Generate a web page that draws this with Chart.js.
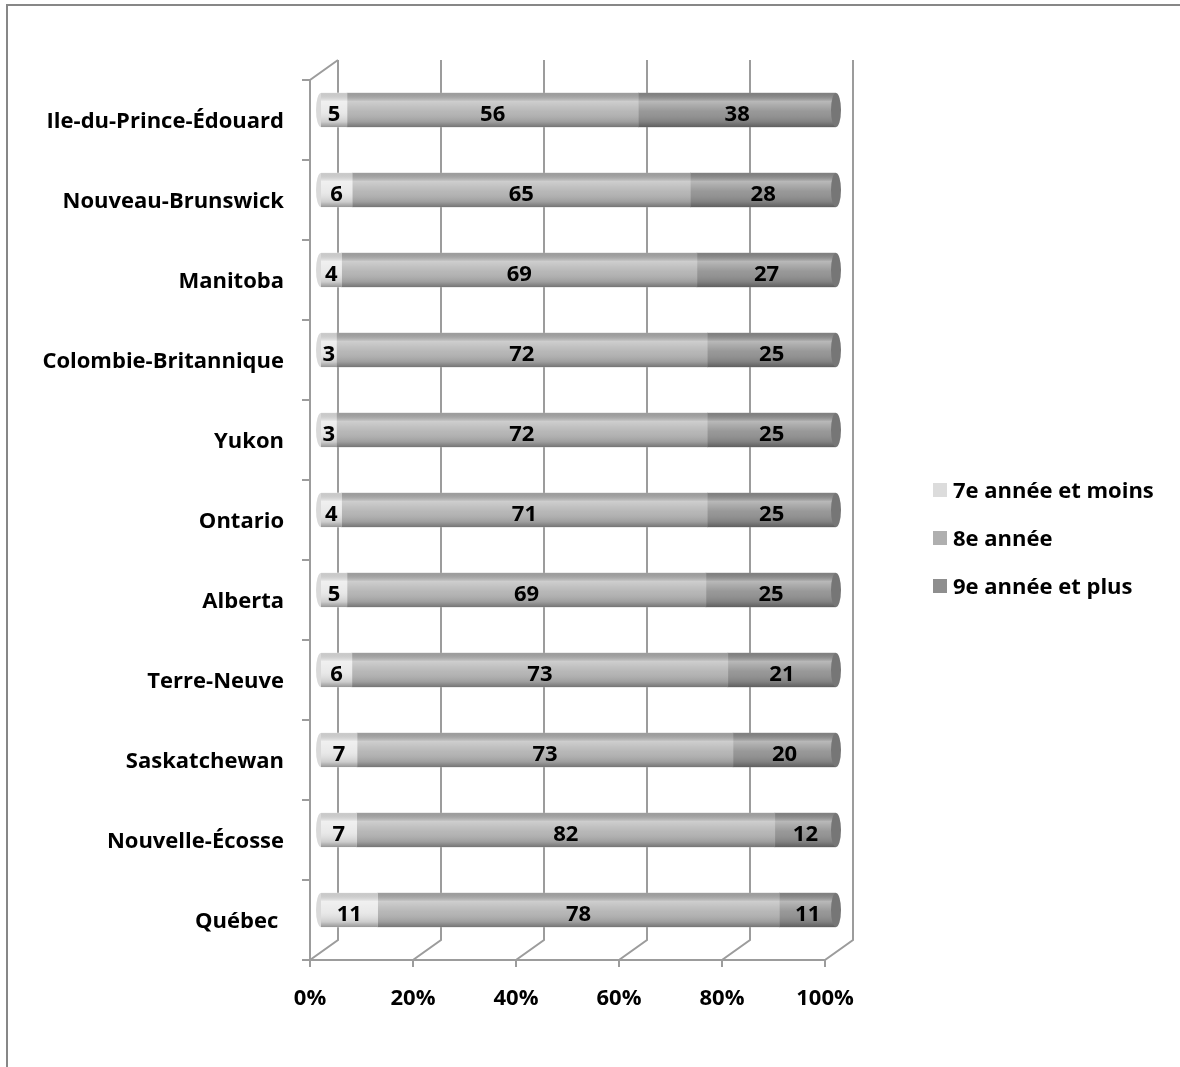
<!DOCTYPE html>
<html>
<head>
<meta charset="utf-8">
<script src="https://cdn.jsdelivr.net/npm/chart.js@4.4.1/dist/chart.umd.min.js"></script>
<style>
  html, body { margin: 0; padding: 0; background: #fff; overflow: hidden; }
  #wrap { position: relative; width: 1180px; height: 1067px; }
  #frame { position: absolute; left: 6px; top: 4px; width: 1300px; height: 1200px;
           border-left: 2px solid #878787; border-top: 2px solid #878787; }
  #legend { position: absolute; left: 933px; top: 474px; font: bold 22px "Open Sans", sans-serif; color: #000; }
  #legend div { height: 48px; display: flex; align-items: flex-start; white-space: nowrap; }
  #legend span.box { display: inline-block; width: 14px; height: 14px; margin: 9px 6px 0 0; }
  canvas { position: absolute; left: 0; top: 0; }
</style>
</head>
<body>
<div id="wrap">
  <div id="frame"></div>
  <canvas id="chart" width="1180" height="1067"></canvas>
  <div id="legend"></div>
</div>
<script>
const provinces = ['Ile-du-Prince-Édouard', 'Nouveau-Brunswick', 'Manitoba', 'Colombie-Britannique',
    'Yukon', 'Ontario', 'Alberta', 'Terre-Neuve', 'Saskatchewan', 'Nouvelle-Écosse', 'Québec '];
const seriesNames = ['7e année et moins', '8e année', '9e année et plus'];
const grade7 = [5, 6, 4, 3, 3, 4, 5, 6, 7, 7, 11];
const grade8 = [56, 65, 69, 72, 72, 71, 69, 73, 73, 82, 78];
const grade9 = [38, 28, 27, 25, 25, 25, 25, 21, 20, 12, 11];
const xTicks = [0, 20, 40, 60, 80, 100];

const barColors = ['#e8e8e8', '#b3b3b3', '#929292'];
const legendColors = ['#dcdcdc', '#afafaf', '#8e8e8e'];
const fontFamily = '"Open Sans", sans-serif';
const fontSize = 22;

// 100% stacked: each row scaled to its own total
const raw = [grade7, grade8, grade9];
const totals = provinces.map((_, i) => grade7[i] + grade8[i] + grade9[i]);
const pct = raw.map(s => s.map((v, i) => v / totals[i] * 100));

// 3D offsets (front plane / back plane relative to the bars)
const FRONT = { dx: -11, dy: 10 };
const BACK = { dx: 17, dy: -10 };
const lineColor = '#9c9c9c';

const frame3d = {
    id: 'frame3d',
    beforeDatasetsDraw(chart) {
        const { ctx, chartArea: a, scales: { x, y } } = chart;
        ctx.save();
        ctx.strokeStyle = lineColor;
        ctx.lineWidth = 2;
        ctx.beginPath();
        // grid lines on back wall + floor lines + ticks
        xTicks.forEach(v => {
            const px = x.getPixelForValue(v);
            ctx.moveTo(px + BACK.dx, a.top + BACK.dy);
            ctx.lineTo(px + BACK.dx, a.bottom + BACK.dy);
            ctx.lineTo(px + FRONT.dx, a.bottom + FRONT.dy);
            ctx.lineTo(px + FRONT.dx, a.bottom + FRONT.dy + 7);
        });
        // front horizontal axis
        ctx.moveTo(x.getPixelForValue(0) + FRONT.dx - 7, a.bottom + FRONT.dy);
        ctx.lineTo(x.getPixelForValue(100) + FRONT.dx, a.bottom + FRONT.dy);
        // left wall
        const lx = x.getPixelForValue(0);
        ctx.moveTo(lx + FRONT.dx, a.bottom + FRONT.dy);
        ctx.lineTo(lx + FRONT.dx, a.top + FRONT.dy);
        ctx.lineTo(lx + BACK.dx, a.top + BACK.dy);
        // category tick marks
        const band = (a.bottom - a.top) / provinces.length;
        for (let i = 0; i <= provinces.length; i++) {
            const ty = a.top + i * band + FRONT.dy;
            ctx.moveTo(lx + FRONT.dx - 8, ty);
            ctx.lineTo(lx + FRONT.dx, ty);
        }
        ctx.stroke();

        // rounded left ends of the cylinders
        const first = chart.getDatasetMeta(0);
        first.data.forEach(bar => {
            const p = bar.getProps(['base', 'y', 'height'], true);
            ctx.fillStyle = '#dadada';
            ctx.beginPath();
            ctx.ellipse(p.base, p.y, 5, p.height / 2, 0, 0, Math.PI * 2);
            ctx.fill();
        });
        ctx.restore();
    },
    afterDatasetsDraw(chart) {
        const { ctx } = chart;
        ctx.save();
        // cylinder shading over every segment
        chart.data.datasets.forEach((ds, di) => {
            chart.getDatasetMeta(di).data.forEach(bar => {
                const p = bar.getProps(['x', 'base', 'y', 'height'], true);
                const top = p.y - p.height / 2;
                const g = ctx.createLinearGradient(0, top, 0, top + p.height);
                g.addColorStop(0, 'rgba(0,0,0,0.12)');
                g.addColorStop(0.25, 'rgba(255,255,255,0.35)');
                g.addColorStop(0.55, 'rgba(255,255,255,0.05)');
                g.addColorStop(0.85, 'rgba(0,0,0,0.12)');
                g.addColorStop(1, 'rgba(0,0,0,0.35)');
                ctx.fillStyle = g;
                ctx.fillRect(p.base, top, p.x - p.base, p.height);
            });
        });
        // end caps
        const last = chart.getDatasetMeta(chart.data.datasets.length - 1);
        last.data.forEach(bar => {
            const p = bar.getProps(['x', 'y', 'height'], true);
            ctx.fillStyle = '#767676';
            ctx.beginPath();
            ctx.ellipse(p.x, p.y, 5, p.height / 2, 0, 0, Math.PI * 2);
            ctx.fill();
        });
        // value labels
        ctx.fillStyle = '#000';
        ctx.font = 'bold ' + fontSize + 'px ' + fontFamily;
        ctx.textAlign = 'center';
        ctx.textBaseline = 'middle';
        chart.data.datasets.forEach((ds, di) => {
            chart.getDatasetMeta(di).data.forEach((bar, i) => {
                const p = bar.getProps(['x', 'base', 'y'], true);
                ctx.fillText(String(raw[di][i]), (p.x + p.base) / 2, p.y + 5);
            });
        });
        ctx.restore();
    }
};

new Chart(document.getElementById('chart'), {
    type: 'bar',
    data: {
        labels: provinces,
        datasets: seriesNames.map((name, i) => ({
            label: name,
            data: pct[i],
            backgroundColor: barColors[i],
            borderWidth: 0,
            barThickness: 34
        }))
    },
    options: {
        indexAxis: 'y',
        responsive: false,
        animation: false,
        layout: { padding: { top: 70, right: 344, bottom: 0, left: 0 } },
        plugins: {
            legend: { display: false },
            tooltip: { enabled: false }
        },
        scales: {
            x: {
                stacked: true,
                min: 0,
                max: 100,
                border: { display: false },
                grid: { display: false, drawTicks: false },
                afterBuildTicks: s => { s.ticks = xTicks.map(v => ({ value: v })); },
                afterFit: s => { s.height = 117; },
                ticks: {
                    padding: 36,
                    labelOffset: FRONT.dx,
                    color: '#000',
                    font: { family: fontFamily, size: fontSize, weight: 'bold' },
                    callback: v => v + '%'
                }
            },
            y: {
                stacked: true,
                border: { display: false },
                grid: { display: false, drawTicks: false },
                afterFit: s => { s.width = 321; },
                ticks: {
                    padding: 37,
                    labelOffset: 12,
                    color: '#000',
                    font: { family: fontFamily, size: fontSize, weight: 'bold' }
                }
            }
        }
    },
    plugins: [frame3d]
});

const legendEl = document.getElementById('legend');
seriesNames.forEach((name, i) => {
    const row = document.createElement('div');
    row.innerHTML = '<span class="box" style="background:' + legendColors[i] + '"></span>' + name;
    legendEl.appendChild(row);
});
</script>
</body>
</html>
